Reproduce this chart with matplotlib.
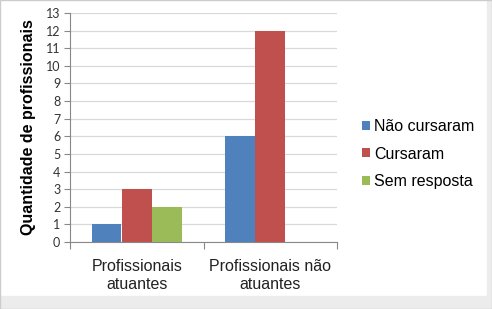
import numpy as np
import matplotlib.pyplot as plt
from matplotlib.patches import Rectangle

# dados do gráfico
categorias = ['Profissionais\natuantes', 'Profissionais não\natuantes']
series = ['Não cursaram', 'Cursaram', 'Sem resposta']
nao_cursaram = [1, 6]
cursaram = [3, 12]
sem_resposta = [2, 0]
cores = ['#4F81BD', '#C0504D', '#9BBB59']

fig = plt.figure(figsize=(4.92, 3.09), dpi=100)
ax = fig.add_axes([70/492, 1 - 242/309, 267/492, 229/309])

x = np.arange(len(categorias))
largura = 0.222
valores = [nao_cursaram, cursaram, sem_resposta]
for i, (nome, v, c) in enumerate(zip(series, valores, cores)):
    ax.bar(x + (i - 1) * (largura + 0.004), v, largura, color=c, label=nome,
           zorder=3)

ax.set_xlim(-0.5, 1.5)
ax.set_ylim(0, 13)
ax.set_yticks(range(14))
ax.set_xticks([-0.5, 0.5, 1.5])
ax.set_xticklabels([])
ax.set_xticks(x, minor=True)
ax.set_xticklabels(categorias, minor=True, fontsize=11.5, family='Liberation Sans',
                   color='#222222', linespacing=1.25)
ax.tick_params(axis='x', which='minor', length=0, pad=12)
ax.tick_params(axis='x', which='major', length=5, color='#888888')
ax.tick_params(axis='y', length=4, color='#888888', labelsize=9,
               labelcolor='#333333', pad=3)
for t in ax.get_yticklabels():
    t.set_family('Lato')
ax.grid(axis='y', color='#d9d9d9', linewidth=0.9, zorder=0)
for s in ['top', 'right']:
    ax.spines[s].set_visible(False)
for s in ['left', 'bottom']:
    ax.spines[s].set_color('#888888')

ax.set_ylabel('Quantidade de profissionais', fontsize=11.5, fontweight='bold',
              family='Liberation Sans', labelpad=7)

ax.legend(loc='center left', bbox_to_anchor=(1.04, 0.384), frameon=False,
          handlelength=0.5, handleheight=0.5, handletextpad=0.25,
          labelspacing=0.78, prop={'family': 'Liberation Sans', 'size': 11.5})

# borda e sombra da moldura
fig.patches.append(Rectangle((0, 0), 1, 1, transform=fig.transFigure,
                             fill=False, edgecolor='#cccccc', linewidth=1))
fig.patches.append(Rectangle((0, 0), 1, 13/309, transform=fig.transFigure,
                             color='#ececec', zorder=0))
fig.patches.append(Rectangle((487/492, 0), 5/492, 1, transform=fig.transFigure,
                             color='#ececec', zorder=0))

fig.savefig('out.png', dpi=100)
